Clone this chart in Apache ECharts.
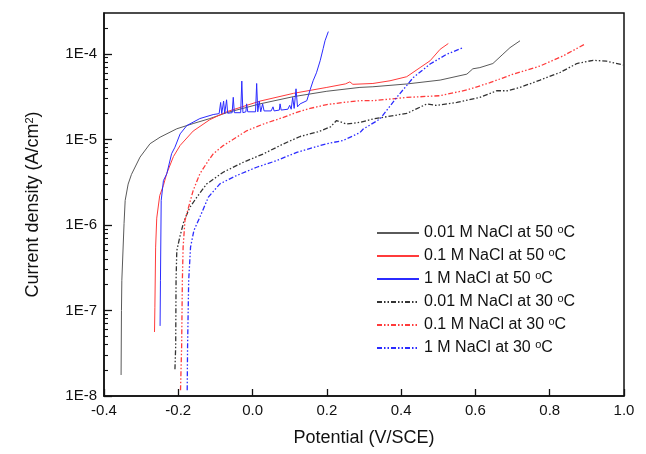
<!DOCTYPE html>
<html>
<head>
<meta charset="utf-8">
<script src="https://cdn.jsdelivr.net/npm/echarts@6/dist/echarts.min.js"></script>
<style>
  html, body { margin: 0; padding: 0; background: #fff; }
  #main { width: 646px; height: 454px; }
</style>
</head>
<body>
<div id="main"></div>
<script>
// series names, in legend order
const names = [
    '0.01 M NaCl at 50 °C',
    '0.1 M NaCl at 50 °C',
    '1 M NaCl at 50 °C',
    '0.01 M NaCl at 30 °C',
    '0.1 M NaCl at 30 °C',
    '1 M NaCl at 30 °C'
]

// [potential V/SCE, current density A/cm2]
const na001at50 = [
    [-0.354, 1.76e-8], [-0.353, 1.0e-7], [-0.352, 2.25e-7], [-0.346, 1.04e-6],
    [-0.343, 1.93e-6], [-0.335, 3.0e-6], [-0.326, 3.9e-6], [-0.303, 6.2e-6],
    [-0.276, 8.9e-6], [-0.249, 1.06e-5], [-0.204, 1.33e-5], [-0.160, 1.53e-5],
    [-0.115, 1.75e-5], [-0.070, 2.05e-5], [0.020, 2.60e-5], [0.109, 3.15e-5],
    [0.200, 3.65e-5], [0.289, 4.05e-5], [0.324, 4.12e-5], [0.415, 4.44e-5],
    [0.505, 4.93e-5], [0.577, 5.79e-5], [0.593, 6.68e-5], [0.612, 6.9e-5],
    [0.647, 7.7e-5], [0.674, 9.9e-5], [0.693, 1.18e-4], [0.720, 1.42e-4]
]
const na01at50 = [
    [-0.264, 5.6e-8], [-0.263, 1.09e-7], [-0.261, 5.5e-7], [-0.258, 1.2e-6],
    [-0.250, 2.2e-6], [-0.240, 2.9e-6], [-0.231, 4.0e-6], [-0.213, 6.3e-6],
    [-0.195, 8.5e-6], [-0.160, 1.25e-5], [-0.115, 1.7e-5], [-0.070, 2.1e-5],
    [0.020, 2.8e-5], [0.110, 3.45e-5], [0.200, 4.05e-5], [0.250, 4.45e-5],
    [0.262, 4.7e-5], [0.270, 4.4e-5], [0.324, 4.5e-5], [0.370, 4.84e-5],
    [0.415, 5.4e-5], [0.451, 6.9e-5], [0.478, 8.3e-5], [0.505, 1.13e-4],
    [0.527, 1.32e-4]
]
const na1at50 = [
    [-0.249, 6.6e-8], [-0.248, 2.25e-7], [-0.246, 1.93e-6], [-0.240, 3.3e-6],
    [-0.231, 3.95e-6], [-0.218, 6.8e-6], [-0.209, 8.1e-6], [-0.195, 1.16e-5],
    [-0.177, 1.45e-5], [-0.142, 1.75e-5], [-0.106, 1.95e-5], [-0.090, 2.0e-5],
    [-0.086, 2.7e-5], [-0.083, 2.0e-5], [-0.078, 2.8e-5], [-0.075, 2.0e-5],
    [-0.070, 2.9e-5], [-0.067, 2.02e-5], [-0.055, 2.05e-5], [-0.052, 3.1e-5],
    [-0.049, 2.05e-5], [-0.032, 2.05e-5], [-0.029, 4.8e-5], [-0.026, 2.05e-5],
    [-0.018, 2.1e-5], [-0.016, 2.6e-5], [-0.013, 2.1e-5], [0.008, 2.1e-5],
    [0.011, 4.5e-5], [0.014, 2.1e-5], [0.018, 2.8e-5], [0.022, 2.1e-5],
    [0.027, 2.6e-5], [0.031, 2.15e-5], [0.050, 2.15e-5], [0.055, 2.4e-5],
    [0.058, 2.15e-5], [0.072, 2.2e-5], [0.074, 2.6e-5], [0.077, 2.2e-5],
    [0.095, 2.25e-5], [0.100, 2.5e-5], [0.104, 2.25e-5], [0.108, 3.1e-5],
    [0.112, 2.3e-5], [0.117, 3.9e-5], [0.121, 2.4e-5], [0.128, 2.6e-5],
    [0.146, 2.83e-5], [0.155, 3.8e-5], [0.163, 4.84e-5], [0.172, 6.0e-5],
    [0.182, 8.3e-5], [0.190, 1.15e-4], [0.195, 1.42e-4], [0.204, 1.82e-4]
]
const na001at30 = [
    [-0.209, 2.05e-8], [-0.207, 3.76e-8], [-0.206, 2.25e-7], [-0.204, 5.0e-7],
    [-0.196, 7.2e-7], [-0.185, 1.1e-6], [-0.169, 1.6e-6], [-0.150, 2.11e-6],
    [-0.124, 3.0e-6], [-0.079, 4.13e-6], [-0.025, 5.4e-6], [0.029, 6.76e-6],
    [0.083, 8.85e-6], [0.128, 1.08e-5], [0.175, 1.22e-5], [0.210, 1.4e-5],
    [0.226, 1.66e-5], [0.253, 1.51e-5], [0.289, 1.58e-5], [0.324, 1.73e-5],
    [0.415, 2.01e-5], [0.469, 2.59e-5], [0.495, 2.49e-5], [0.550, 2.70e-5],
    [0.612, 3.09e-5], [0.657, 3.70e-5], [0.685, 3.70e-5], [0.720, 4.05e-5],
    [0.774, 4.93e-5], [0.828, 6.05e-5], [0.873, 7.7e-5], [0.917, 8.4e-5],
    [0.953, 8.2e-5], [0.998, 7.4e-5]
]
const na01at30 = [
    [-0.194, 1.17e-8], [-0.191, 3.76e-8], [-0.189, 2.25e-7], [-0.187, 5.5e-7],
    [-0.182, 1.13e-6], [-0.160, 2.52e-6], [-0.142, 3.95e-6], [-0.119, 5.65e-6],
    [-0.106, 6.76e-6], [-0.079, 8.45e-6], [-0.043, 1.06e-5], [-0.016, 1.26e-5],
    [0.029, 1.51e-5], [0.083, 1.81e-5], [0.119, 2.07e-5], [0.155, 2.3e-5],
    [0.200, 2.55e-5], [0.244, 2.70e-5], [0.289, 2.83e-5], [0.324, 2.83e-5],
    [0.415, 3.09e-5], [0.505, 3.24e-5], [0.577, 3.78e-5], [0.639, 4.6e-5],
    [0.702, 5.79e-5], [0.774, 7.2e-5], [0.837, 9.5e-5], [0.895, 1.30e-4]
]
const na1at30 = [
    [-0.176, 1.17e-8], [-0.175, 3.76e-8], [-0.172, 2.25e-7], [-0.167, 5.5e-7],
    [-0.158, 8.6e-7], [-0.142, 1.23e-6], [-0.119, 2.11e-6], [-0.088, 3.02e-6],
    [-0.043, 3.78e-6], [0.011, 4.72e-6], [0.065, 5.65e-6], [0.119, 7.06e-6],
    [0.200, 8.9e-6], [0.244, 9.7e-6], [0.289, 1.2e-5], [0.298, 1.32e-5],
    [0.343, 1.73e-5], [0.388, 3.09e-5], [0.433, 5.3e-5], [0.478, 7.6e-5],
    [0.523, 9.9e-5], [0.567, 1.18e-4]
]

const seriesData = [na001at50, na01at50, na1at50, na001at30, na01at30, na1at30]
const colors = ['#5a5a5a', '#ff3b3b', '#2b2bff', '#333333', '#ff3b3b', '#2b2bff']
const dashDot = [5, 2, 1.5, 2, 1.5, 2]

// y range (A/cm2) and minor ticks 2..9 per decade
const yMin = 1e-8
const yMax = 3e-4
const decades = [1e-8, 1e-7, 1e-6, 1e-5, 1e-4]
const minorSteps = [2, 3, 4, 5, 6, 7, 8, 9]
let minorTicks = []
for (let d of decades) {
    for (let k of minorSteps) {
        if (k * d < yMax) minorTicks.push(Math.log10(k * d))
    }
}

const fontFamily = 'Liberation Sans, Arial, sans-serif'

let myChart = echarts.init(document.getElementById('main'))

let option = {
    backgroundColor: '#fff',
    animation: false,
    textStyle: {fontFamily: fontFamily},
    grid: {
        left: 104, right: 22, top: 13, bottom: 58,
        show: true,
        borderColor: '#111',
        borderWidth: 1.5
    },
    legend: {
        orient: 'vertical',
        left: 376,
        top: 224,
        padding: 0,
        itemWidth: 42,
        itemHeight: 14,
        itemGap: 5,
        itemStyle: {opacity: 0},
        data: names,
        formatter: name => name.replace(' °C', ' {sup|o}C'),
        textStyle: {
            fontSize: 16,
            lineHeight: 18,
            color: '#111',
            fontFamily: fontFamily,
            rich: {
                sup: {fontSize: 11, verticalAlign: 'top', lineHeight: 10, padding: [0, 0, 6, 0], fontFamily: fontFamily, color: '#111'}
            }
        }
    },
    xAxis: {
        type: 'value',
        min: -0.4,
        max: 1.0,
        interval: 0.2,
        name: 'Potential (V/SCE)',
        nameLocation: 'middle',
        nameGap: 33,
        nameTextStyle: {fontSize: 18, color: '#111', fontFamily: fontFamily},
        axisLine: {show: true, onZero: false, lineStyle: {color: '#111', width: 1.5}},
        axisTick: {show: true, inside: true, length: 7, lineStyle: {color: '#111', width: 1.3}},
        axisLabel: {
            fontSize: 15, color: '#111', margin: 7,
            formatter: v => v.toFixed(1)
        },
        splitLine: {show: false}
    },
    yAxis: [
        {
            type: 'log',
            logBase: 10,
            min: yMin,
            max: yMax,
            name: 'Current density (A/cm{sup|2})',
            nameLocation: 'middle',
            nameGap: 62,
            nameTextStyle: {
                fontSize: 18, color: '#111', fontFamily: fontFamily,
                rich: {sup: {fontSize: 11, verticalAlign: 'top', lineHeight: 10, padding: [0, 0, 7, 0], fontFamily: fontFamily, color: '#111'}}
            },
            axisLine: {show: true, onZero: false, lineStyle: {color: '#111', width: 1.5}},
            axisTick: {show: true, inside: true, length: 8, lineStyle: {color: '#111', width: 1.3}},
            axisLabel: {
                fontSize: 15, color: '#111', margin: 7,
                showMaxLabel: false,
                formatter: v => '1E' + Math.round(Math.log10(v))
            },
            splitLine: {show: false}
        },
        {
            // minor ticks only, on a linear axis in log10 units laid over the log axis
            type: 'value',
            min: Math.log10(yMin),
            max: Math.log10(yMax),
            position: 'left',
            axisLine: {show: false, onZero: false},
            axisTick: {show: true, inside: true, length: 4, customValues: minorTicks, lineStyle: {color: '#111', width: 1.1}},
            axisLabel: {show: false},
            splitLine: {show: false}
        }
    ],
    series: names.map((name, i) => ({
        name: name,
        type: 'line',
        data: seriesData[i],
        showSymbol: false,
        symbol: 'none',
        color: colors[i],
        lineStyle: {
            color: colors[i],
            width: i < 3 ? 1 : 1.3,
            type: i < 3 ? 'solid' : dashDot
        }
    }))
}

myChart.setOption(option)
</script>
</body>
</html>
